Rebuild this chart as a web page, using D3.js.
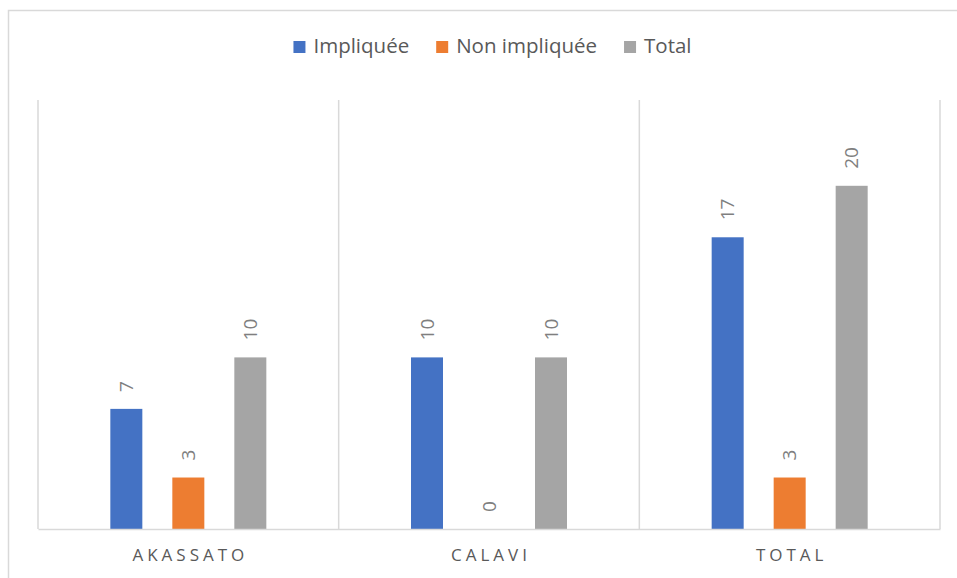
<!DOCTYPE html>
<html>
<head>
<meta charset="utf-8">
<script src="https://cdn.jsdelivr.net/npm/d3@7"></script>
<style>
  html, body { margin: 0; padding: 0; background: #fff; }
  svg { display: block; font-family: "Open Sans", sans-serif; }
</style>
</head>
<body>
<svg id="chart" width="957" height="578"></svg>
<script>
// Survey counts by locality
const categories = ["AKASSATO", "CALAVI", "TOTAL"];
const seriesNames = ["Impliquée", "Non impliquée", "Total"];
const impliquee = [7, 10, 17];
const nonImpliquee = [3, 0, 3];
const totalValues = [10, 10, 20];
const seriesColors = ["#4472c4", "#ed7d31", "#a5a5a5"];

const seriesValues = [impliquee, nonImpliquee, totalValues];

const svg = d3.select("#chart");
const plot = { left: 38, right: 940, top: 100, bottom: 529 };

// Outer chart frame (right and bottom edges run past the canvas)
svg.append("rect")
  .attr("x", 8.5).attr("y", 10.5)
  .attr("width", 1000).attr("height", 1000)
  .attr("fill", "#fff")
  .attr("stroke", "#d9d9d9")
  .attr("stroke-width", 1.5);

const x0 = d3.scaleBand().domain(categories).range([plot.left, plot.right]).padding(0);
const x1 = d3.scaleBand().domain(seriesNames).range([-78, 78]).paddingInner(30 / 62).paddingOuter(0);
const y = d3.scaleLinear().domain([0, 25]).range([plot.bottom, plot.top]);

// Vertical category separators
const seps = categories.map(c => x0(c)).concat([plot.right]);
svg.append("g").selectAll("line").data(seps).join("line")
  .attr("x1", d => d).attr("x2", d => d)
  .attr("y1", plot.top).attr("y2", plot.bottom)
  .attr("stroke", "#d9d9d9").attr("stroke-width", 1.5);

// Bars with rotated value labels
const groups = svg.append("g").selectAll("g").data(categories).join("g")
  .attr("transform", c => `translate(${x0(c) + x0.bandwidth() / 2},0)`);

groups.each(function (c, ci) {
  const g = d3.select(this);
  seriesNames.forEach((s, si) => {
    const v = seriesValues[si][ci];
    g.append("rect")
      .attr("x", x1(s))
      .attr("y", y(v))
      .attr("width", x1.bandwidth())
      .attr("height", y(0) - y(v))
      .attr("fill", seriesColors[si]);
    const lx = x1(s) + x1.bandwidth() / 2;
    const ly = y(v) - 17;
    g.append("text")
      .attr("transform", `translate(${lx},${ly}) rotate(-90)`)
      .attr("dy", "0.35em")
      .attr("text-anchor", "start")
      .attr("fill", "#7f7f7f")
      .attr("font-size", 19)
      .text(v);
  });
});

// Baseline axis
const spacing = 4;
const xAxis = d3.axisBottom(x0).tickSize(0).tickPadding(17);
const axG = svg.append("g").attr("transform", `translate(0,${plot.bottom})`).call(xAxis);
axG.select(".domain").attr("stroke", "#d9d9d9").attr("stroke-width", 1.5);
axG.selectAll("text")
  .attr("font-family", "Open Sans, sans-serif")
  .attr("font-size", 17)
  .attr("fill", "#595959")
  .attr("letter-spacing", spacing + "px")
  .attr("dx", spacing / 2)
  .attr("dy", "0.9em");

// Legend
const legend = svg.append("g");
const items = legend.selectAll("g").data(seriesNames).join("g");
items.append("rect")
  .attr("width", 12).attr("height", 12)
  .attr("y", -12)
  .attr("fill", (d, i) => seriesColors[i]);
items.append("text")
  .attr("x", 20)
  .attr("y", 0)
  .attr("fill", "#595959")
  .attr("font-size", 20.5)
  .text(d => d);
let cx = 0;
const gap = 27;
items.each(function () {
  const w = this.getBBox().width;
  d3.select(this).attr("transform", `translate(${cx},0)`);
  cx += w + gap;
});
const legendWidth = cx - gap;
legend.attr("transform", `translate(${492.5 - legendWidth / 2},53)`);
</script>
</body>
</html>
